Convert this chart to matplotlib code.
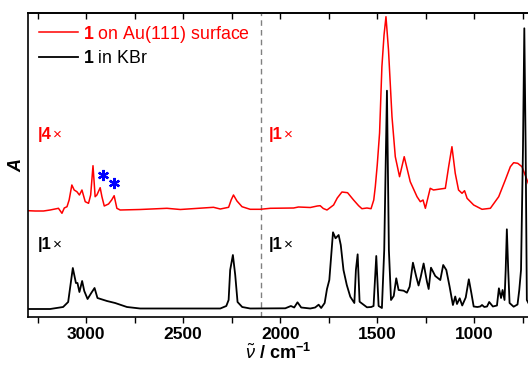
import matplotlib
matplotlib.use("Agg")
import matplotlib.pyplot as plt
from matplotlib.ticker import MultipleLocator

# ---- data (wavenumber in cm-1, absorbance in arbitrary units) ----
kbr_wn = [3299, 3186, 3119, 3093, 3069, 3053, 3045, 3035, 3021, 3010,
          2993, 2974, 2957, 2942, 2893, 2851, 2790, 2722, 2515, 2309,
          2278, 2266, 2258, 2244, 2232, 2220, 2196, 2155, 1974, 1945,
          1928, 1911, 1892, 1845, 1820, 1802, 1789, 1771, 1759, 1747,
          1728, 1715, 1699, 1688, 1674, 1657, 1639, 1618, 1610, 1601,
          1591, 1572, 1553, 1531, 1519, 1505, 1493, 1476, 1464, 1450,
          1440, 1429, 1415, 1402, 1390, 1364, 1347, 1333, 1316, 1299,
          1287, 1276, 1261, 1244, 1235, 1223, 1201, 1175, 1160, 1144,
          1127, 1110, 1098, 1089, 1075, 1062, 1044, 1028, 1015, 1003,
          984, 969, 960, 948, 934, 923, 904, 883, 873, 862,
          854, 844, 838, 832, 825, 818, 797, 777, 768, 759,
          749, 742, 735, 729, 721]
kbr_abs = [8, 8, 10, 15, 49, 34, 34, 25, 36, 26,
           18, 24, 29, 19, 16, 14, 10, 8.5, 8.5, 8.5,
           11, 17, 47, 62, 42, 15, 10, 8.5, 8.7, 11,
           9.5, 14.7, 9.5, 8.5, 9.5, 12.3, 9, 14, 28, 37,
           84.7, 78.7, 82, 72, 47, 32, 20.3, 14, 47, 62.7,
           15.3, 12.5, 9.7, 10, 11, 61, 11, 9, 67, 226.3,
           67, 17, 21, 38.7, 27, 26.3, 24.3, 30.3, 54.3, 40.3,
           31.5, 40, 53.5, 35.5, 28, 49.3, 41, 37, 52, 47,
           30.3, 12, 20.5, 13, 18.7, 11.5, 19.5, 37.7, 24, 10.5,
           10, 10.5, 12, 10, 10.5, 15, 10.5, 11.5, 28.7, 19,
           27, 17, 47, 87.7, 47, 14, 10.3, 12.5, 27, 47,
           167, 288.7, 167, 17, 14]

au_wn = [3299, 3263, 3220, 3186, 3143, 3125, 3113, 3099, 3088, 3074,
         3062, 3048, 3035, 3022, 3005, 2988, 2977, 2965, 2954, 2945,
         2928, 2919, 2907, 2885, 2869, 2856, 2842, 2825, 2722, 2584,
         2515, 2344, 2309, 2266, 2253, 2241, 2223, 2197, 2155, 2103,
         2051, 1931, 1906, 1845, 1809, 1794, 1778, 1759, 1725, 1706,
         1682, 1653, 1622, 1596, 1579, 1553, 1532, 1518, 1510, 1500,
         1488, 1476, 1465, 1455, 1442, 1424, 1407, 1385, 1361, 1330,
         1295, 1278, 1264, 1252, 1227, 1210, 1175, 1149, 1132, 1115,
         1098, 1081, 1063, 1050, 1037, 1003, 960, 917, 874, 840,
         814, 797, 776, 754, 728, 720]
au_abs = [106.3, 106, 106, 107, 108.7, 103.7, 109, 110.3, 117, 132,
          127, 125.3, 122, 127, 115.3, 113.7, 122, 151.3, 120.3, 122,
          129.3, 120.3, 111, 113, 117, 121.3, 108.7, 107, 107.5, 108.7,
          107.5, 109.7, 108, 109.7, 117, 122, 116, 110.3, 107.7, 107.7,
          108.7, 109, 110, 109.5, 111, 111.3, 108.5, 107, 112, 119,
          125, 124.3, 117, 111.3, 108.3, 109, 108.3, 117, 130.3, 152,
          184, 250.3, 282, 300.3, 267, 200.3, 160.3, 140.3, 160.3, 135.3,
          120.3, 115.3, 117, 108.7, 128.7, 127, 128, 128.7, 150.3, 170.3,
          143.7, 127, 123.7, 126.3, 118.7, 112, 107.7, 108.7, 120.3, 137,
          150.3, 154.3, 153.7, 150.3, 137, 133]

star_wn = [2912, 2856]
star_abs = [142, 133.7]

# scale labels: (wavenumber, absorbance, factor, colour)
scale_marks = [(3250, 183, "4", "#ff0000"), (2057, 183, "1", "#ff0000"),
               (3250, 73, "1", "black"), (2057, 73, "1", "black")]

plt.rcParams.update({
    "font.family": ["Liberation Sans", "DejaVu Sans"],
    "font.size": 12,
    "mathtext.fontset": "custom",
    "mathtext.rm": "Liberation Sans",
    "mathtext.it": "Liberation Sans:italic",
    "mathtext.bf": "Liberation Sans:bold",
})

fig = plt.figure(figsize=(5.28, 3.65), dpi=100)
ax = fig.add_axes([28 / 528, 48 / 365, 1 - 28 / 528, 304 / 365])

ax.plot(au_wn, au_abs, color="#ff0000", lw=1.1, label=r"$\mathbf{1}$ on Au(111) surface", zorder=2)
ax.plot(kbr_wn, kbr_abs, color="black", lw=1.3, label=r"$\mathbf{1}$ in KBr", zorder=3)
ax.axvline(2100, color="#808080", lw=1.0, ls=(0, (4, 3)), zorder=1)

ax.plot(star_wn, star_abs, ls="none", marker=(6, 2, 0), ms=8, mew=1.6, color="#0000ff")

for wn, a, fac, col in scale_marks:
    t = ax.text(wn, a, "|" + fac, color=col, fontweight="bold", fontsize=12,
                ha="left", va="center")
    ax.annotate("\u00d7", xy=(1, 0), xycoords=t, xytext=(1, 0), textcoords="offset points",
                color=col, fontsize=11, ha="left", va="bottom")

ax.set_xlim(3300, 723)
ax.set_ylim(0, 304)
ax.xaxis.set_major_locator(MultipleLocator(500))
ax.xaxis.set_minor_locator(MultipleLocator(250))
ax.tick_params(axis="x", which="both", direction="out", length=4, width=1, top=False,
               labelsize=12.5, pad=3)
ax.set_yticks([])
for lab in ax.get_xticklabels():
    lab.set_fontweight("bold")

# top axis with inward ticks
sec = ax.secondary_xaxis("top")
sec.xaxis.set_major_locator(MultipleLocator(500))
sec.xaxis.set_minor_locator(MultipleLocator(250))
sec.tick_params(axis="x", which="both", direction="in", length=4, width=1, labeltop=False)
sec.spines["top"].set_linewidth(1.2)

ax.spines["right"].set_visible(False)
for s in ["left", "bottom", "top"]:
    ax.spines[s].set_linewidth(1.2)

ax.set_ylabel("A", fontstyle="italic", fontweight="bold", fontsize=13, labelpad=2)
ax.set_xlabel(r"$\tilde{\nu}$ / cm$^{\mathbf{-1}}$", fontweight="bold", fontsize=13, labelpad=1)

ax.legend(loc="upper left", bbox_to_anchor=(0.0, 1.0), frameon=False, handlelength=2.2,
          handletextpad=0.3, labelspacing=0.3, labelcolor="linecolor", fontsize=12.8,
          borderaxespad=0.2)

fig.savefig("out.png", dpi=100)
